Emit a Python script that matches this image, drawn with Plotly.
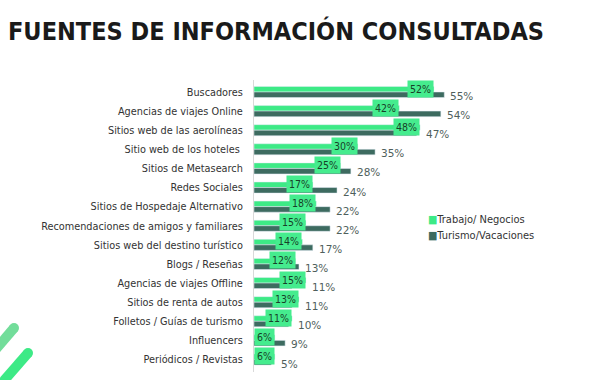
import plotly.graph_objects as go

categories = ["Buscadores", "Agencias de viajes Online", "Sitios web de las aerolíneas",
              "Sitio web de los hoteles ", "Sitios de Metasearch", "Redes Sociales",
              "Sitios de Hospedaje Alternativo", "Recomendaciones de amigos y familiares",
              "Sitios web del destino turístico", "Blogs / Reseñas", "Agencias de viajes Offline",
              "Sitios de renta de autos", "Folletos / Guías de turismo", "Influencers",
              "Periódicos / Revistas"]
trabajo = [52, 42, 48, 30, 25, 17, 18, 15, 14, 12, 15, 13, 11, 6, 6]
turismo = [55, 54, 47, 35, 28, 24, 22, 22, 17, 13, 11, 11, 10, 9, 5]
series_names = ["Trabajo/ Negocios", "Turismo/Vacaciones"]

LIGHT = "#3dea86"
DARK = "#3d6b60"
W, H = 600, 380
ML, MR, MT, MB = 254, 0, 80, 8
PW, PH = W - ML - MR, H - MT - MB

fig = go.Figure()
fig.add_trace(go.Bar(y=categories, x=trabajo, orientation="h", name=series_names[0],
                     marker=dict(color=LIGHT), hoverinfo="x+y", showlegend=False))
fig.add_trace(go.Bar(y=categories, x=turismo, orientation="h", name=series_names[1],
                     marker=dict(color=DARK), hoverinfo="x+y", showlegend=False))


def px(x):
    return (x - ML) / PW


def py(y):
    return 1 - (y - MT) / PH


annotations = []
for c, a, b in zip(categories, trabajo, turismo):
    annotations.append(dict(x=a, y=c, xref="x", yref="y", text=f"{a}%", showarrow=False,
                            xanchor="right", yanchor="middle", yshift=3.5, xshift=0,
                            bgcolor="#45ec8e", borderpad=2,
                            font=dict(family="DejaVu Sans Condensed", size=10.5, color="#173f28")))
    annotations.append(dict(x=max(a, b), y=c, xref="x", yref="y", text=f"{b}%", showarrow=False,
                            xanchor="left", yanchor="middle", yshift=-4, xshift=4,
                            font=dict(family="DejaVu Sans", size=10.5, color="#4f5f5c")))

# legend drawn as text entries with coloured squares
for name, col, ypix in zip(series_names, [LIGHT, DARK], [219, 235]):
    annotations.append(dict(x=px(426), y=py(ypix), xref="paper", yref="paper",
                            text=f"<span style='color:{col}'>■</span>{name}", showarrow=False,
                            xanchor="left", yanchor="middle",
                            font=dict(family="DejaVu Sans Condensed", size=11, color="#333333")))

shapes = []
stripes = [((-10, 356), (14, 328), "#72dd9a"), ((-6, 392), (28, 353), "#3dea86")]
for (x0, y0), (x1, y1), col in stripes:
    shapes.append(dict(type="line", xref="paper", yref="paper", x0=px(x0), y0=py(y0),
                       x1=px(x1), y1=py(y1), line=dict(color=col, width=10), layer="above"))
    shapes.append(dict(type="circle", xref="paper", yref="paper", xsizemode="pixel",
                       ysizemode="pixel", xanchor=px(x1), yanchor=py(y1), x0=-5, x1=5,
                       y0=-5, y1=5, fillcolor=col, line=dict(width=0), layer="above"))

fig.update_layout(
    width=W, height=H,
    margin=dict(l=ML, r=MR, t=MT, b=MB),
    paper_bgcolor="white", plot_bgcolor="white",
    barmode="group", bargap=0.42, bargroupgap=0,
    title=dict(text="<b>FUENTES DE INFORMACIÓN CONSULTADAS</b>", x=8 / W, xanchor="left",
               xref="container", yref="container", y=1 - 31 / H, yanchor="middle",
               font=dict(family="DejaVu Sans Condensed", size=25, color="#1a1a1a")),
    xaxis=dict(range=[0, 100], visible=False, fixedrange=True),
    yaxis=dict(autorange="reversed", categoryorder="array", categoryarray=categories,
               showline=True, linecolor="#d9d9d9", linewidth=1, ticks="", ticklen=0,
               ticklabelstandoff=8,
               tickfont=dict(family="DejaVu Sans Condensed", size=10.8, color="#333333"),
               showgrid=False),
    annotations=annotations,
    shapes=shapes,
    showlegend=False,
)

fig.write_html("out.html", config={"displayModeBar": False},
               post_script="document.body.style.margin='0';")
